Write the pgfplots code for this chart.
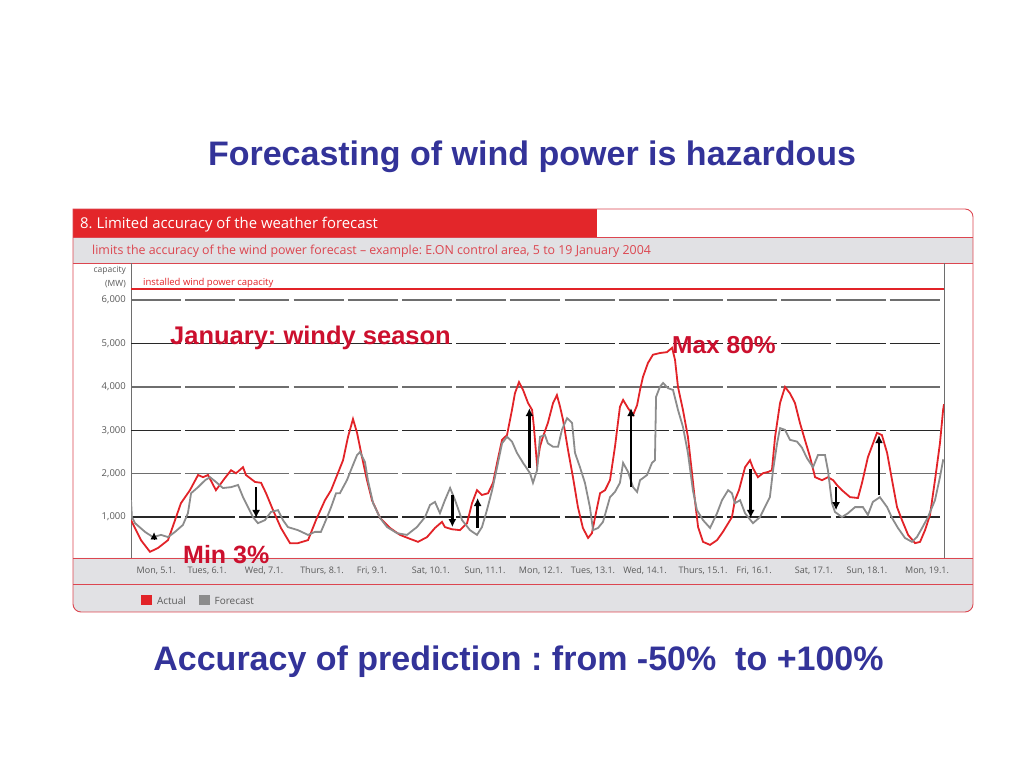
\documentclass[border=0pt]{standalone}
\usepackage{pgfplots}
\pgfplotsset{compat=1.18}
\usetikzlibrary{arrows.meta}
\usepackage{fontspec}
\setmainfont{Open Sans}
\newfontfamily\arialfont{Liberation Sans}

\definecolor{actualred}{RGB}{226,35,40}
\definecolor{forecastgray}{RGB}{140,140,140}
\definecolor{bandred}{RGB}{227,38,42}
\definecolor{boxred}{RGB}{220,70,80}
\definecolor{bandgray}{RGB}{225,225,228}
\definecolor{notered}{RGB}{204,16,46}
\definecolor{slideblue}{RGB}{51,51,153}
\definecolor{ticktext}{RGB}{90,90,90}
\definecolor{gridgray}{RGB}{110,110,110}
\definecolor{gridblack}{RGB}{40,40,40}

\begin{document}
\frenchspacing
\begin{tikzpicture}[x=1pt,y=1pt]
% page: 1 px of the slide = 1 pt
\fill[white] (0,0) rectangle (1024,768);
\path[use as bounding box] (0,0) rectangle (1024,768);

% chart frame and bands
\fill[bandred] (73,531) rectangle (597,559);
\fill[bandgray] (73,505) rectangle (973,531);
\fill[bandgray] (73,210) -- (973,210) -- (973,164) arc[start angle=0,end angle=-90,radius=8]
  -- (81,156) arc[start angle=270,end angle=180,radius=8] -- cycle;
\draw[boxred, line width=0.9pt] (73,559) -- (965,559) arc[start angle=90,end angle=0,radius=8]
  -- (973,164) arc[start angle=0,end angle=-90,radius=8]
  -- (81,156) arc[start angle=270,end angle=180,radius=8] -- cycle;
\draw[boxred, line width=0.9pt] (73,531) -- (973,531);
\draw[boxred, line width=0.9pt] (73,505) -- (973,505);
\draw[boxred, line width=0.9pt] (73,210) -- (973,210);
\draw[boxred, line width=0.9pt] (73,184) -- (973,184);
\draw[gridgray, line width=1pt] (131,505) -- (131,210);
\draw[gridgray, line width=1pt] (944,505) -- (944,210);

\node[anchor=base west, text=white, font=\fontsize{14.9}{16}\selectfont, inner sep=0pt]
  at (80,539) {8. Limited accuracy of the weather forecast};
\node[anchor=base west, text=boxred, font=\fontsize{12.4}{14}\selectfont, inner sep=0pt]
  at (92,513) {limits the accuracy of the wind power forecast -- example: E.ON control area, 5 to 19 January 2004};
\node[anchor=base east, text=ticktext, font=\fontsize{8.5}{9}\selectfont, inner sep=0pt]
  at (126,495) {capacity};
\node[anchor=base east, text=ticktext, font=\fontsize{8.5}{9}\selectfont, inner sep=0pt]
  at (126,481) {(MW)};
\node[anchor=base west, text=actualred, font=\fontsize{9.5}{10}\selectfont, inner sep=0pt]
  at (143,482) {installed wind power capacity};

\begin{axis}[
  at={(131pt,210pt)}, anchor=south west,
  width=813pt, height=295pt, scale only axis,
  xmin=0, xmax=360, ymin=58, ymax=6854,
  axis line style={draw=none},
  tick style={draw=none},
  major tick length=0pt,
  /pgf/number format/1000 sep={,},
  /pgf/number format/assume math mode=true,
  ytick={2000,4000,6000},
  extra y ticks={1000,3000,5000},
  ymajorgrids,
  major grid style={draw=gridgray, line width=1.4pt, dash pattern=on 50pt off 4.2pt},
  extra y tick style={grid=major, major grid style={draw=gridblack, line width=1.4pt, dash pattern=on 50pt off 4.2pt}},
  yticklabel style={font=\fontsize{9.5}{10}\selectfont, text=ticktext, anchor=east, inner sep=0pt, xshift=-5pt},
  xtick={11.1,33.7,58.9,84.6,106.7,132.8,156.8,181.5,204.6,227.6,253.3,275.9,302.4,325.9,352.5},
  xticklabels={{Mon, 5.1.},{Tues, 6.1.},{Wed, 7.1.},{Thurs, 8.1.},{Fri, 9.1.},{Sat, 10.1.},{Sun, 11.1.},
    {Mon, 12.1.},{Tues, 13.1.},{Wed, 14.1.},{Thurs, 15.1.},{Fri, 16.1.},{Sat, 17.1.},{Sun, 18.1.},{Mon, 19.1.}},
  xticklabel style={font=\fontsize{9}{10}\selectfont, text=ticktext, anchor=center, inner sep=0pt, yshift=-13pt},
  legend columns=2,
  legend style={at={(0.0123,-0.1475)}, anchor=west, draw=none, fill=none, inner sep=0pt,
    font=\fontsize{10}{11}\selectfont, text=ticktext,
    /tikz/every odd column/.append style={column sep=3pt},
    /tikz/every even column/.append style={column sep=11pt}},
  legend image code/.code={\fill[#1] (0pt,-2.5pt) rectangle (9pt,6.5pt);},
]
% Actual
\addplot[color=actualred, line width=1.8pt] coordinates {
(0,930)(4.4,470)(8.4,200)(12.0,290)(16.4,470)(19.5,930)(22.1,1320)(26.1,1620)(29.7,1970)(31.9,1920)
(34.1,1970)(37.6,1620)(41.6,1900)(44.3,2080)(46.5,2010)(49.6,2150)(50.9,1970)(54.9,1810)(57.6,1790)
(59.8,1550)(62.9,1160)(66.4,750)(70.4,400)(73.9,400)(78.4,470)(81.9,930)(85.9,1390)(88.6,1620)
(91.6,2010)(93.9,2310)(96.1,2850)(98.3,3260)(100.1,2940)(102.3,2380)(104.5,1850)(106.7,1390)
(110.3,980)(114.7,750)(119.1,590)(123.5,500)(127.1,430)(131.1,540)(134.6,750)(137.7,890)(139.0,770)
(142.1,720)(145.7,700)(148.8,860)(151.0,1320)(153.2,1620)(155.4,1510)(158.1,1550)(160.3,1790)
(162.1,2250)(164.3,2780)(166.5,2890)(168.7,3470)(170.0,3850)(171.8,4110)(173.6,3930)(175.8,3630)
(177.6,3470)(178.4,3080)(179.8,2200)(181.1,2620)(182.4,2850)(184.6,3170)(186.9,3630)(188.6,3810)
(190.0,3540)(191.3,3240)(193.5,2550)(195.7,1920)(197.9,1230)(200.1,750)(202.4,520)(204.1,630)
(205.5,1000)(207.7,1550)(209.9,1620)(212.1,1850)(214.3,2620)(216.5,3540)(217.9,3700)(220.1,3510)
(222.3,3350)(224.1,3580)(225.4,3930)(226.7,4230)(228.9,4550)(231.1,4740)(234.2,4780)(237.3,4800)
(239.6,4900)(240.9,4620)(242.2,4000)(244.4,3470)(246.6,2850)(248.4,2020)(249.7,1390)(251.1,770)
(253.3,430)(256.4,360)(259.5,470)(262.1,660)(266.1,1000)(267.4,1390)(269.2,1620)(271.9,2150)
(274.1,2310)(275.4,2130)(277.6,1920)(279.8,2010)(282.1,2040)(283.8,2080)(285.2,2850)(287.4,3630)
(289.6,4000)(291.8,3850)(294.0,3630)(296.2,3170)(298.4,2780)(300.7,2380)(302.9,1920)(306.0,1850)
(308.6,1920)(310.9,1850)(312.6,1740)(314.8,1620)(318.4,1460)(321.9,1440)(323.7,1790)(326.3,2380)
(330.3,2940)(332.5,2890)(334.8,2480)(337.0,1850)(339.2,1230)(341.4,930)(344.1,590)(347.2,400)
(349.4,430)(351.6,700)(353.8,1050)(356.0,1850)(358.2,2700)(359.6,3470)(360,3600)
};
\addlegendentry{Actual}
% Forecast
\addplot[color=forecastgray, line width=1.8pt] coordinates {
(0,1390)(0.4,1000)(1.8,860)(6.2,660)(9.7,540)(13.3,590)(16.4,540)(19.5,660)(23.0,820)(25.2,1090)
(26.6,1550)(29.7,1690)(32.8,1850)(35.0,1920)(37.6,1810)(40.7,1670)(44.3,1690)(47.4,1740)(49.6,1460)
(51.8,1230)(54.0,1000)(56.2,860)(59.3,930)(62.0,1120)(65.1,1160)(67.3,930)(69.5,770)(73.9,700)
(78.4,590)(81.5,660)(84.1,660)(86.3,930)(88.6,1230)(90.8,1550)(92.5,1550)(95.6,1850)(97.9,2150)
(100.1,2430)(101.4,2500)(103.6,2270)(104.9,1850)(107.2,1320)(110.3,980)(113.4,770)(117.8,630)
(122.2,590)(126.6,770)(130.2,1000)(132.4,1280)(134.6,1350)(136.8,1090)(139.0,1390)(141.3,1670)
(143.5,1390)(146.6,930)(150.1,700)(153.2,590)(155.4,770)(157.6,1160)(159.9,1620)(162.1,2150)
(164.3,2700)(166.5,2850)(168.7,2740)(170.9,2480)(173.6,2250)(176.7,2010)(178.0,1790)(179.8,2080)
(181.1,2850)(183.3,2890)(184.6,2700)(186.9,2620)(189.1,2620)(190.8,3010)(193.1,3280)(195.3,3170)
(196.6,2480)(198.8,2150)(201.0,1790)(203.2,1230)(204.6,700)(206.8,750)(209.0,890)(212.1,1460)
(214.3,1580)(216.5,1790)(217.9,2250)(220.1,2040)(222.3,1690)(224.1,1580)(225.4,1850)(228.5,1970)
(230.7,2250)(232.0,2310)(232.5,3770)(234.2,4000)(235.6,4090)(237.8,3970)(240.0,3930)(242.2,3470)
(244.4,3080)(246.6,2480)(248.8,1620)(250.6,1160)(253.3,930)(256.4,750)(259.5,1090)(261.7,1390)
(264.4,1620)(266.1,1550)(267.4,1320)(269.7,1390)(271.9,1090)(275.4,860)(278.5,1000)(280.7,1230)
(282.9,1460)(284.3,2080)(286.1,2700)(287.4,3050)(289.6,3010)(291.8,2780)(294.9,2740)(297.1,2600)
(299.3,2360)(302.0,2150)(304.2,2430)(307.3,2430)(308.6,2080)(310.4,1320)(311.7,1120)(314.8,1000)
(317.5,1090)(320.6,1230)(324.1,1230)(326.3,1050)(328.5,1350)(331.6,1460)(334.8,1230)(337.0,980)
(339.6,750)(342.7,520)(345.8,430)(348.0,540)(350.3,750)(352.9,1000)(356.0,1390)(358.2,1920)
(359.6,2310)(360,2300)
};
\addlegendentry{Forecast}
% installed wind power capacity
\addplot[forget plot, color=actualred, line width=1.6pt] coordinates {(0,6255)(360,6255)};
% deviation arrows
\addplot[forget plot, black, line width=0.6pt, -{Latex[length=7pt,width=7pt]}] coordinates {(10.2,480)(10.2,650)};
\addplot[forget plot, black, line width=2.6pt, -{Latex[length=8pt,width=8pt]}] coordinates {(55.4,1690)(55.4,980)};
\addplot[forget plot, black, line width=2.6pt, -{Latex[length=8pt,width=8pt]}] coordinates {(142.3,1510)(142.3,770)};
\addplot[forget plot, black, line width=2.6pt, -{Latex[length=8pt,width=8pt]}] coordinates {(153.5,750)(153.5,1440)};
\addplot[forget plot, black, line width=2.6pt, -{Latex[length=8pt,width=8pt]}] coordinates {(176.4,2130)(176.4,3510)};
\addplot[forget plot, black, line width=2.6pt, -{Latex[length=8pt,width=8pt]}] coordinates {(221.4,1690)(221.4,3510)};
\addplot[forget plot, black, line width=2.6pt, -{Latex[length=8pt,width=8pt]}] coordinates {(274.4,2110)(274.4,980)};
\addplot[forget plot, black, line width=2.6pt, -{Latex[length=8pt,width=8pt]}] coordinates {(312.2,1690)(312.2,1160)};
\addplot[forget plot, black, line width=2.6pt, -{Latex[length=8pt,width=8pt]}] coordinates {(331.2,1510)(331.2,2890)};
\end{axis}

% slide texts
\node[anchor=base, text=slideblue, font=\arialfont\bfseries\fontsize{34}{38}\selectfont, inner sep=0pt]
  at (532,602) {Forecasting of wind power is hazardous};
\node[anchor=base, text=slideblue, font=\arialfont\bfseries\fontsize{34}{38}\selectfont, inner sep=0pt]
  at (518.5,98) {Accuracy of prediction : from -50\%\ \ to +100\%};
\node[anchor=base west, text=notered, font=\arialfont\bfseries\fontsize{25.5}{28}\selectfont, inner sep=0pt]
  at (170,423) {January: windy season};
\node[anchor=base west, text=notered, font=\arialfont\bfseries\fontsize{24.5}{28}\selectfont, inner sep=0pt]
  at (672,414) {Max 80\%};
\node[anchor=base west, text=notered, font=\arialfont\bfseries\fontsize{25}{28}\selectfont, inner sep=0pt]
  at (183,204) {Min 3\%};
\end{tikzpicture}
\end{document}
